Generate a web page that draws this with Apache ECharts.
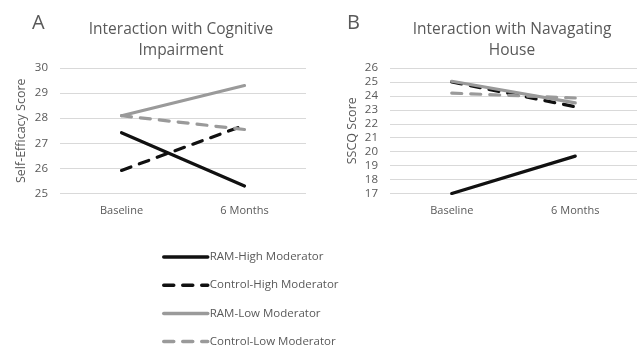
<!DOCTYPE html>
<html><head><meta charset="utf-8">
<script src="https://cdn.jsdelivr.net/npm/echarts@6/dist/echarts.min.js"></script>
<style>html,body{margin:0;padding:0;background:#fff}#c{width:638px;height:347px}</style>
</head><body><div id="c"></div>
<script>
const categories = ['Baseline', '6 Months'];
const seriesNames = ['RAM-High Moderator', 'Control-High Moderator', 'RAM-Low Moderator', 'Control-Low Moderator'];
// Panel A: Self-Efficacy Score
const aRamHigh = [27.42, 25.3];
const aControlHigh = [25.92, 27.72];
const aRamLow = [28.1, 29.3];
const aControlLow = [28.1, 27.55];
// Panel B: SSCQ Score
const bRamHigh = [17.0, 19.68];
const bControlHigh = [25.0, 23.22];
const bRamLow = [25.05, 23.5];
const bControlLow = [24.2, 23.85];
const aTicks = {min: 25, max: 30, interval: 1};
const bTicks = {min: 17, max: 26, interval: 1};

const BLACK = '#111111', GRAY = '#9a9a9a', TXT = '#595959';
const FONT = 'Open Sans';
const styles = [
  {color: BLACK, type: 'solid'},
  {color: BLACK, type: [10, 9]},
  {color: GRAY, type: 'solid'},
  {color: GRAY, type: [10, 9]}
];
const panelData = [[aRamHigh, aControlHigh, aRamLow, aControlLow], [bRamHigh, bControlHigh, bRamLow, bControlLow]];

const chart = echarts.init(document.getElementById('c'), null, {renderer: 'canvas'});
const series = [];
panelData.forEach((arr, p) => {
  arr.forEach((d, i) => {
    series.push({
      name: seriesNames[i], type: 'line', xAxisIndex: p, yAxisIndex: p,
      data: d, symbol: 'none', silent: true, animation: false,
      lineStyle: {color: styles[i].color, width: 3.2, type: styles[i].type, cap: 'round'},
      itemStyle: {color: styles[i].color}
    });
  });
});
const xAxisBase = {
  type: 'category', data: categories, boundaryGap: true,
  axisLine: {show: false}, axisTick: {show: false},
  axisLabel: {color: TXT, fontSize: 11, fontFamily: FONT, margin: 12}
};
const yAxisBase = {
  type: 'value', nameLocation: 'middle', nameRotate: 90,
  nameTextStyle: {color: TXT, fontSize: 12.5, fontFamily: FONT},
  axisLine: {show: false}, axisTick: {show: false},
  axisLabel: {color: TXT, fontSize: 11.5, fontFamily: FONT, margin: 12},
  splitLine: {lineStyle: {color: '#d9d9d9', width: 1}}
};
chart.setOption({
  backgroundColor: '#fff',
  animation: false,
  title: [
    {text: 'A', left: 32, top: 13, padding: 0, textStyle: {color: TXT, fontSize: 20, fontWeight: 'normal', fontFamily: FONT}},
    {text: 'B', left: 347, top: 13, padding: 0, textStyle: {color: TXT, fontSize: 20, fontWeight: 'normal', fontFamily: FONT}},
    {text: 'Interaction with Cognitive\nImpairment', left: 181, top: 19, padding: 0, textAlign: 'center',
     textStyle: {color: TXT, fontSize: 15.5, fontWeight: 'normal', fontFamily: FONT, lineHeight: 21}},
    {text: 'Interaction with Navagating\nHouse', left: 512, top: 19, padding: 0, textAlign: 'center',
     textStyle: {color: TXT, fontSize: 15.5, fontWeight: 'normal', fontFamily: FONT, lineHeight: 21}}
  ],
  grid: [
    {left: 60, top: 68, width: 246, height: 125.5},
    {left: 390, top: 68, width: 247, height: 125.5}
  ],
  xAxis: [Object.assign({gridIndex: 0}, xAxisBase), Object.assign({gridIndex: 1}, xAxisBase)],
  yAxis: [
    Object.assign({gridIndex: 0, name: 'Self-Efficacy Score', nameGap: 32}, yAxisBase, aTicks),
    Object.assign({gridIndex: 1, name: 'SSCQ Score', nameGap: 31}, yAxisBase, bTicks)
  ],
  legend: {
    orient: 'vertical', left: 157, top: 246, height: 200, itemWidth: 44, itemHeight: 14, itemGap: 16.2,
    data: seriesNames, selectedMode: false,
    itemStyle: {opacity: 0},
    lineStyle: {width: 3.5, cap: 'round'},
    textStyle: {color: TXT, fontSize: 11.5, fontFamily: FONT, padding: [0, 0, 0, -3]}
  },
  series: series
});
</script></body></html>
